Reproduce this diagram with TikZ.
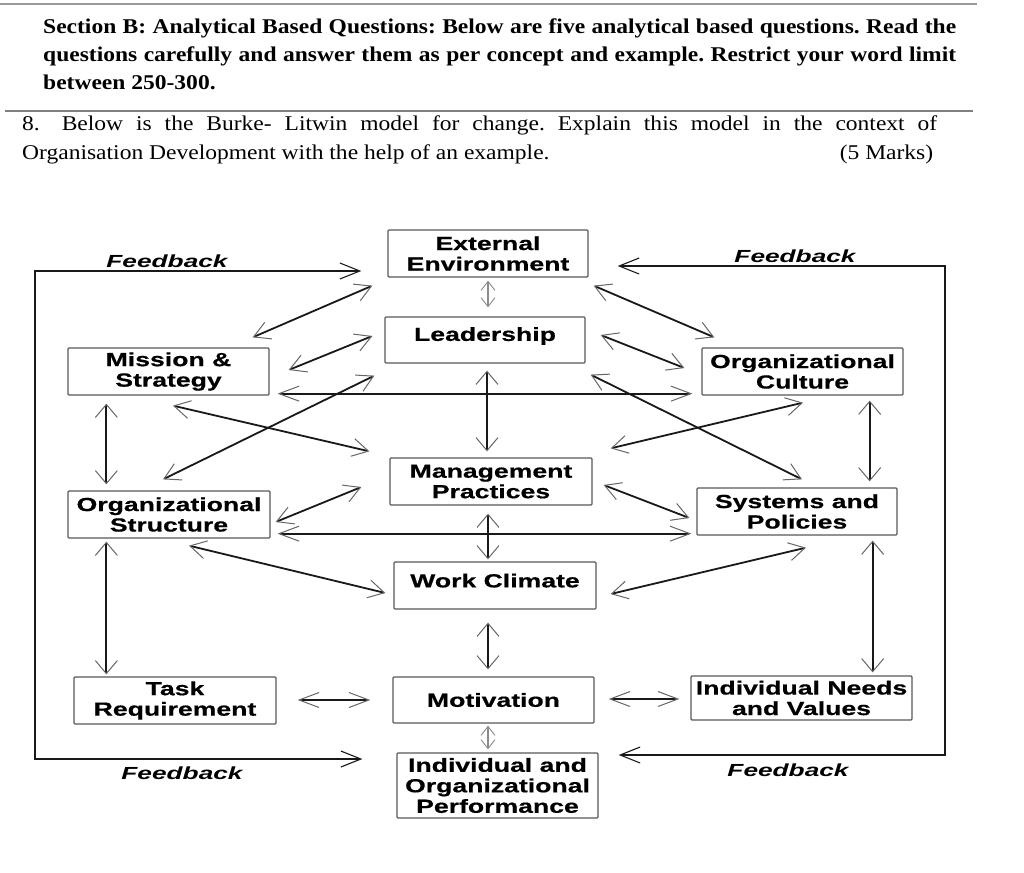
\documentclass[tikz,border=0pt]{standalone}
\usepackage{fontspec}
\setmainfont{Liberation Serif}[FakeStretch=1.12]
\newfontfamily\boxfont{Liberation Sans}[FakeStretch=1.4,FakeBold=0.5]
\newfontfamily\fbfont{Liberation Sans}[FakeStretch=1.5]
\usetikzlibrary{arrows.meta}
\frenchspacing

\begin{document}
\begin{tikzpicture}[x=1pt,y=-1pt,
  blk/.style={draw=black!65, line width=1.3pt, rounded corners=1pt, inner sep=0pt,
    minimum width=200pt, minimum height=47pt, align=center,
    font=\boxfont\bfseries\fontsize{19}{20.5}\selectfont},
  lnk/.style={line width=1.8pt, draw=black!90,
    >={Straight Barb[length=16pt,width=18pt,line width=1pt,color=black!60]}, <->},
  hlnk/.style={lnk, >={Straight Barb[length=20pt,width=15pt,line width=1pt,color=black!60]}, <->},
  vlnk/.style={lnk, >={Straight Barb[length=13pt,width=22pt,line width=1pt,color=black!60]}, <->},
  faint/.style={line width=1.2pt, draw=black!45,
    >={Straight Barb[length=9pt,width=14pt,line width=0.9pt,color=black!45]}, <->},
  fbline/.style={line width=1.8pt, draw=black!90,
    >={Straight Barb[length=20pt,width=16pt,line width=1.1pt]}, <->},
  fblbl/.style={inner sep=0pt, font=\fbfont\bfseries\itshape\fontsize{17.5}{20}\selectfont},
  head/.style={anchor=base west, inner sep=0pt, font=\bfseries\fontsize{21}{28}\selectfont},
  quest/.style={anchor=base west, inner sep=0pt, font=\fontsize{21}{27}\selectfont}]
    \useasboundingbox (0,0) rectangle (1024,872);
    \fill[white] (0,0) rectangle (1024,872);

    % question text
    \draw[line width=2.5pt, gray!80] (0,4) -- (977,4);
    \node[head] (sec1) at (43,34) {\makebox[913pt][s]{Section B: Analytical Based Questions: Below are five analytical based questions. Read the}};
    \node[head] (sec2) at (43,62) {\makebox[913pt][s]{questions carefully and answer them as per concept and example. Restrict your word limit}};
    \node[head] (sec3) at (43,90) {between 250-300.};
    \draw[line width=1.2pt, gray] (5,111) -- (973,111);
    \node[quest] (q1) at (22,131) {\makebox[915pt][s]{8.\hspace{9pt} Below is the Burke- Litwin model for change. Explain this model in the context of}};
    \node[quest] (q2) at (22,159) {\makebox[911pt][s]{Organisation Development with the help of an example.\hfill(5 Marks)}};

    % boxes
    \node[blk] (ext) at (488,253.5) {External\\Environment};
    \node[blk, minimum height=46pt, text depth=12pt] (lead) at (485,340) {Leadership};
    \node[blk, minimum width=201pt] (miss) at (168.5,371.5) {Mission \&\\Strategy};
    \node[blk, minimum width=201pt] (cult) at (802.5,371.5) {Organizational\\Culture};
    \node[blk, minimum width=202pt] (mgmt) at (491,481.5) {Management\\Practices};
    \node[blk, minimum width=202pt] (stru) at (169,514.5) {Organizational\\Structure};
    \node[blk] (sys) at (797,511.5) {Systems and\\Policies};
    \node[blk, minimum width=202pt, text depth=10pt] (clim) at (495,585.5) {Work Climate};
    \node[blk, minimum width=202pt] (task) at (175,700.5) {Task\\Requirement};
    \node[blk, minimum width=201pt, minimum height=46pt] (moti) at (493.5,700) {Motivation};
    \node[blk, minimum width=221pt, minimum height=44pt] (need) at (801.5,698) {Individual Needs\\and Values};
    \node[blk, minimum width=201pt, minimum height=65pt] (perf) at (497.5,785.5) {Individual and\\Organizational\\Performance};

    % links
    \draw[faint] ([shift={(0,3)}]ext.south) -- ([shift={(3,-9)}]lead.north);
    \draw[lnk] ([shift={(-15,8)}]ext.south west) -- ([shift={(-17,-10)}]miss.north east);
    \draw[lnk] ([shift={(-12,-4)}]lead.west) -- ([shift={(19,-1.5)}]miss.east);
    \draw[lnk] ([shift={(-10,12)}]lead.south west) -- ([shift={(-6,-11)}]stru.north);
    \draw[lnk] ([shift={(4.5,10)}]miss.south) -- ([shift={(-20,-6)}]mgmt.north west);
    \draw[hlnk] ([shift={(8,-2)}]miss.south east) -- ([shift={(-9,-2)}]cult.south west);
    \draw[vlnk] ([shift={(2,7)}]lead.south) -- ([shift={(-4,-6)}]mgmt.north);
    \draw[vlnk] ([shift={(39,8)}]miss.south west) -- ([shift={(39,-6)}]stru.north west);
    \draw[lnk] ([shift={(-28,5.5)}]mgmt.west) -- ([shift={(5,7.5)}]stru.east);
    \draw[hlnk] ([shift={(7,-5)}]stru.south east) -- ([shift={(-5,-2)}]sys.south west);
    \draw[lnk] ([shift={(5,8)}]ext.south east) -- ([shift={(13,-10)}]cult.north west);
    \draw[lnk] ([shift={(15,-5)}]lead.east) -- ([shift={(-17,-3.5)}]cult.west);
    \draw[lnk] ([shift={(5,11)}]lead.south east) -- ([shift={(5,-8)}]sys.north);
    \draw[lnk] ([shift={(0.5,7)}]cult.south) -- ([shift={(18,-9)}]mgmt.north east);
    \draw[vlnk] ([shift={(-34,5)}]cult.south east) -- ([shift={(-28,-6)}]sys.north east);
    \draw[lnk] ([shift={(11,3.5)}]mgmt.east) -- ([shift={(-7,6.5)}]sys.west);
    \draw[vlnk] ([shift={(-3,8)}]mgmt.south) -- ([shift={(-7,-2)}]clim.north);
    \draw[lnk] ([shift={(20,7)}]stru.south) -- ([shift={(-8,7.5)}]clim.west);
    \draw[lnk] ([shift={(9,12)}]sys.south) -- ([shift={(14,8.5)}]clim.east);
    \draw[vlnk] ([shift={(39,3)}]stru.south west) -- ([shift={(33,-2)}]task.north west);
    \draw[vlnk] ([shift={(-25,5)}]sys.south east) -- ([shift={(-40,-3)}]need.north east);
    \draw[vlnk] ([shift={(-7,13)}]clim.south) -- ([shift={(-5.5,-7)}]moti.north);
    \draw[hlnk] ([shift={(21,-0.5)}]task.east) -- ([shift={(-22,0)}]moti.west);
    \draw[hlnk] ([shift={(14,-1)}]moti.east) -- ([shift={(-11,1)}]need.west);
    \draw[faint] ([shift={(-5.5,2)}]moti.south) -- ([shift={(-9.5,-3)}]perf.north);

    % feedback loops
    \coordinate (fbNW) at (35,271);
    \coordinate (fbSW) at (35,759);
    \coordinate (fbNE) at (945,266);
    \coordinate (fbSE) at (945,755);
    \draw[fbline] ([shift={(-26,17.5)}]ext.west) -- (fbNW) -- (fbSW) -- ([shift={(-34,-26.5)}]perf.west);
    \draw[fbline] ([shift={(29,12.5)}]ext.east) -- (fbNE) -- (fbSE) -- ([shift={(20,-30.5)}]perf.east);
    \node[fblbl] (fbA) at (167,261) {Feedback};
    \node[fblbl] (fbB) at (795,256) {Feedback};
    \node[fblbl] (fbC) at (182,773) {Feedback};
    \node[fblbl] (fbD) at (788,770) {Feedback};
\end{tikzpicture}
\end{document}
